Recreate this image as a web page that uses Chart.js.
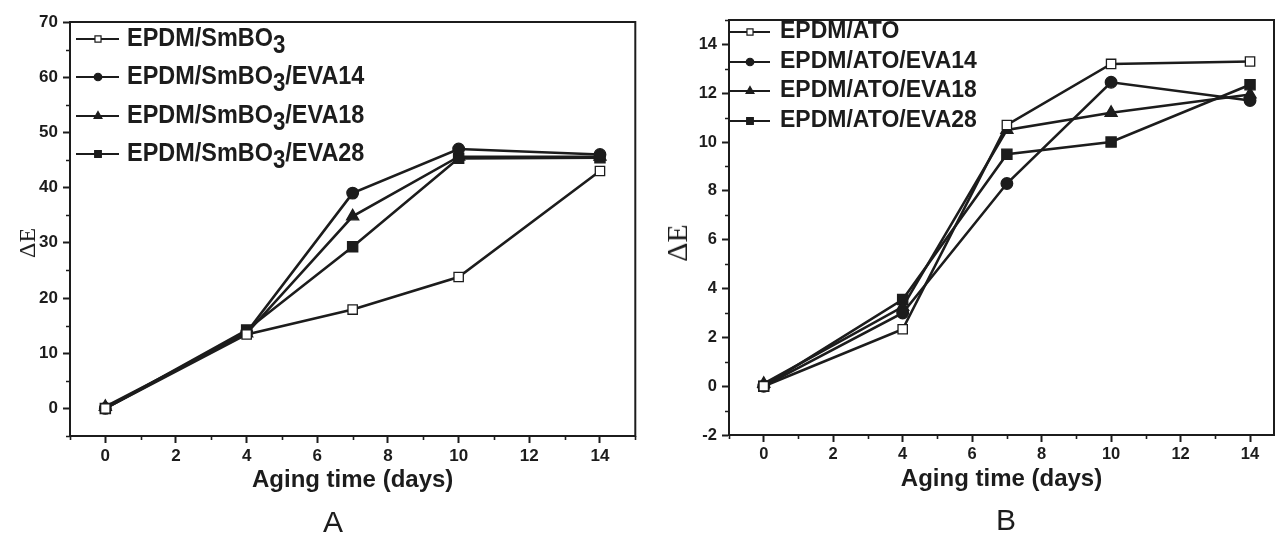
<!DOCTYPE html>
<html>
<head>
<meta charset="utf-8">
<script src="https://cdn.jsdelivr.net/npm/chart.js@4.4.1/dist/chart.umd.min.js"></script>
<style>
  html, body { margin: 0; padding: 0; background: #fff; }
  #figure { position: relative; width: 1276px; height: 541px; overflow: hidden; background: #fff; }
  #figure canvas { position: absolute; top: 0; }
  .y-title {
    position: absolute;
    font-family: 'Liberation Serif', 'Times New Roman', serif;
    color: #1c1c1c;
    line-height: 1;
    white-space: nowrap;
    transform: translate(-50%, -50%) rotate(-90deg);
  }
  .panel-tag {
    position: absolute;
    font-family: 'Liberation Sans', Arial, sans-serif;
    font-size: 30px;
    color: #1c1c1c;
    line-height: 1;
    transform: translate(-50%, -50%);
  }
</style>
</head>
<body>
<div id="figure">
  <canvas id="chartA" width="640" height="541" style="left:0"></canvas>
  <canvas id="chartB" width="636" height="541" style="left:640px"></canvas>
  <div class="y-title" style="left:27px; top:243px; font-size:24px">ΔE</div>
  <div class="y-title" style="left:677px; top:243px; font-size:30px">ΔE</div>
  <div class="panel-tag" style="left:333px; top:522px">A</div>
  <div class="panel-tag" style="left:1006px; top:520px">B</div>
</div>
<script>
const INK = '#1c1c1c';
const FONT = "'Liberation Sans', Arial, sans-serif";

// shared x values (aging time, days) and tick labels
const DAYS    = [ 0, 4, 7, 10, 14 ];
const X_TICKS = [ 0, 2, 4, 6, 8, 10, 12, 14 ];

// panel A - SmBO3 series
const A_LABELS = [ 'EPDM/SmBO_3', 'EPDM/SmBO_3/EVA14', 'EPDM/SmBO_3/EVA18', 'EPDM/SmBO_3/EVA28' ];
const A_SMBO3  = [ 0,   13.4, 17.9, 23.8, 43.0 ];
const A_EVA14  = [ 0,   13.8, 39.0, 47.0, 46.0 ];
const A_EVA18  = [ 0.3, 13.6, 34.8, 45.6, 45.6 ];
const A_EVA28  = [ 0,   14.2, 29.3, 45.3, 45.4 ];
const A_Y_TICKS = [ 0, 10, 20, 30, 40, 50, 60, 70 ];

// panel B - ATO series
const B_LABELS = [ 'EPDM/ATO', 'EPDM/ATO/EVA14', 'EPDM/ATO/EVA18', 'EPDM/ATO/EVA28' ];
const B_ATO    = [ 0,   2.33, 10.7, 13.2,  13.3 ];
const B_EVA14  = [ 0,   3.0,  8.3,  12.45, 11.7 ];
const B_EVA18  = [ 0.1, 3.25, 10.5, 11.2,  11.95 ];
const B_EVA28  = [ 0,   3.55, 9.5,  10.0,  12.35 ];
const B_Y_TICKS = [ -2, 0, 2, 4, 6, 8, 10, 12, 14 ];

const MARKERS = [
    { style: 'rect',     fill: '#fff', radius: 6.6 },
    { style: 'circle',   fill: INK,    radius: 5.8 },
    { style: 'triangle', fill: INK,    radius: 7 },
    { style: 'rect',     fill: INK,    radius: 7.2 },
];

// full box round the plot area, like Origin
const framePlugin = {
    id: 'frame',
    beforeDatasetsDraw( chart ) {
        const { ctx, chartArea: a } = chart;
        ctx.save();
        ctx.strokeStyle = INK;
        ctx.lineWidth = 2;
        ctx.strokeRect( a.left, a.top, a.right - a.left, a.bottom - a.top );
        ctx.restore();
    },
};

// short minor ticks between the major ones
const minorTickPlugin = {
    id: 'minorTicks',
    afterDraw( chart, args, opts ) {
        const { ctx, chartArea: a, scales: { x, y } } = chart;
        const isMajor = ( scale, v ) => scale.ticks.some( ( t ) => Math.abs( t.value - v ) < 1e-6 );
        ctx.save();
        ctx.strokeStyle = INK;
        ctx.lineWidth = 1.6;
        ctx.beginPath();
        for ( let v = x.min; v <= x.max + 1e-9; v += opts.xStep ) {
            if ( isMajor( x, v ) ) continue;
            const px = Math.round( x.getPixelForValue( v ) ) + 0.5;
            ctx.moveTo( px, a.bottom );
            ctx.lineTo( px, a.bottom + opts.length );
        }
        for ( let v = y.min; v <= y.max + 1e-9; v += opts.yStep ) {
            if ( isMajor( y, v ) ) continue;
            const py = Math.round( y.getPixelForValue( v ) ) + 0.5;
            ctx.moveTo( a.left, py );
            ctx.lineTo( a.left - opts.length, py );
        }
        ctx.stroke();
        ctx.restore();
    },
};

// legend drawn by hand so the "_3" can become a subscript
const legendPlugin = {
    id: 'sketchLegend',
    afterDraw( chart, args, opts ) {
        const ctx = chart.ctx;
        chart.data.datasets.forEach( ( ds, i ) => {
            const y = opts.rows[ i ];
            const m = MARKERS[ i ];
            ctx.save();
            ctx.strokeStyle = INK;
            ctx.lineWidth = 2.2;
            ctx.beginPath();
            ctx.moveTo( opts.x0, y );
            ctx.lineTo( opts.x1, y );
            ctx.stroke();

            ctx.fillStyle = m.fill;
            ctx.lineWidth = 1.2;
            Chart.helpers.drawPoint( ctx, { pointStyle: m.style, radius: m.radius * opts.markerScale, rotation: 0, borderWidth: 1.2 }, opts.xm, y );

            ctx.fillStyle = INK;
            ctx.textBaseline = 'alphabetic';
            ctx.translate( opts.textX, y + opts.font * 0.25 );
            ctx.scale( opts.squeeze, 1 );
            let tx = 0;
            ds.label.split( /_(\d)/ ).forEach( ( part, k ) => {
                const sub = k % 2 === 1;
                ctx.font = `bold ${ sub ? opts.font * 0.95 : opts.font }px ${ FONT }`;
                ctx.fillText( part, tx, sub ? opts.font * 0.27 : 0 );
                tx += ctx.measureText( part ).width;
            } );
            ctx.restore();
        } );
    },
};

function buildChart( canvasId, panel ) {
    return new Chart( document.getElementById( canvasId ), {
        type: 'line',
        data: {
            datasets: panel.series.map( ( values, i ) => ( {
                label: panel.labels[ i ],
                data: DAYS.map( ( d, j ) => ( { x: d, y: values[ j ] } ) ),
                borderColor: INK,
                borderWidth: 2.6,
                pointStyle: MARKERS[ i ].style,
                pointRadius: MARKERS[ i ].radius,
                pointBackgroundColor: MARKERS[ i ].fill,
                pointBorderColor: INK,
                pointBorderWidth: 1.3,
                tension: 0,
                fill: false,
                clip: false,
            } ) ),
        },
        options: {
            responsive: false,
            animation: false,
            events: [],
            layout: { padding: panel.padding, autoPadding: false },
            plugins: {
                legend: { display: false },
                tooltip: { enabled: false },
                sketchLegend: panel.legend,
                minorTicks: { xStep: 1, yStep: panel.yMinorStep, length: 4 },
            },
            scales: {
                x: {
                    type: 'linear',
                    min: -1,
                    max: panel.xMax,
                    afterBuildTicks: ( s ) => { s.ticks = X_TICKS.map( ( v ) => ( { value: v } ) ); },
                    afterFit: ( s ) => { s.height = panel.xAxisHeight; },
                    grid: { drawOnChartArea: false, drawTicks: true, tickLength: 7, tickWidth: 2, tickColor: INK },
                    border: { display: true, width: 2, color: INK },
                    ticks: { color: INK, padding: 3, font: { family: FONT, size: panel.tickSize, weight: 'bold' } },
                    title: {
                        display: true,
                        text: 'Aging time (days)',
                        color: INK,
                        font: { family: FONT, size: panel.xTitleSize, weight: 'bold' },
                        padding: { top: 0, bottom: panel.xTitlePad },
                    },
                },
                y: {
                    type: 'linear',
                    min: panel.yMin,
                    max: panel.yMax,
                    afterBuildTicks: ( s ) => { s.ticks = panel.yTicks.map( ( v ) => ( { value: v } ) ); },
                    afterFit: ( s ) => { s.width = panel.yAxisWidth; },
                    grid: { drawOnChartArea: false, drawTicks: true, tickLength: 7, tickWidth: 2, tickColor: INK },
                    border: { display: true, width: 2, color: INK },
                    ticks: { color: INK, padding: 5, font: { family: FONT, size: panel.tickSize, weight: 'bold' } },
                },
            },
        },
        plugins: [ framePlugin, minorTickPlugin, legendPlugin ],
    } );
}

buildChart( 'chartA', {
    labels: A_LABELS,
    series: [ A_SMBO3, A_EVA14, A_EVA18, A_EVA28 ],
    xMax: 15,
    yMin: -5,
    yMax: 70,
    yTicks: A_Y_TICKS,
    yMinorStep: 5,
    padding: { left: 0, top: 22, right: 4.7, bottom: 0 },
    yAxisWidth: 70,
    xAxisHeight: 105,
    tickSize: 17,
    xTitleSize: 24,
    xTitlePad: 46,
    legend: { x0: 76, x1: 119, xm: 98, textX: 127, rows: [ 39, 77, 116, 154 ], font: 26.5, squeeze: 0.885, markerScale: 0.65 },
} );

buildChart( 'chartB', {
    labels: B_LABELS,
    series: [ B_ATO, B_EVA14, B_EVA18, B_EVA28 ],
    xMax: 14.69,
    yMin: -2,
    yMax: 15,
    yTicks: B_Y_TICKS,
    yMinorStep: 1,
    padding: { left: 0, top: 20, right: 2, bottom: 0 },
    yAxisWidth: 89,
    xAxisHeight: 106,
    tickSize: 16.5,
    xTitleSize: 24,
    xTitlePad: 47,
    legend: { x0: 89, x1: 130, xm: 110, textX: 140, rows: [ 32, 62, 91, 121 ], font: 23, squeeze: 1, markerScale: 0.65 },
} );
</script>
</body>
</html>
